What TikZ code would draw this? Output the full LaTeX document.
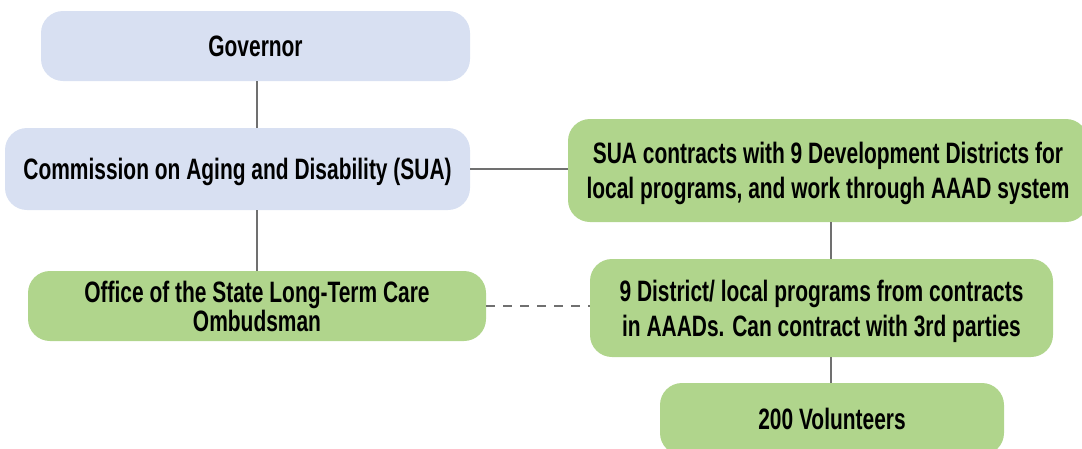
\documentclass[tikz,border=0pt]{standalone}
\usepackage{fontspec}
\setmainfont{Liberation Sans}[FakeStretch=0.71]
\usepackage{tikz}
\usetikzlibrary{positioning,calc}
\definecolor{govblue}{HTML}{D8E0F2}
\definecolor{leafgreen}{HTML}{B0D58C}
\definecolor{linkgray}{HTML}{707070}
\tikzset{
  govbox/.style={rounded corners=22pt, align=center, inner sep=0pt, text depth=-3pt, fill=govblue,
    font=\bfseries\fontsize{29.5}{35}\selectfont},
  localbox/.style={rounded corners=22pt, align=center, inner sep=0pt, text depth=-3pt, fill=leafgreen,
    font=\bfseries\fontsize{29.5}{35}\selectfont},
  link/.style={draw=linkgray, line width=2.4pt},
  dashedlink/.style={draw=linkgray, line width=2.4pt, dash pattern=on 9pt off 8pt}
}
\begin{document}
\begin{tikzpicture}[x=1pt, y=-1pt]
  \useasboundingbox (0,0) rectangle (1082,448);
  \clip (0,0) rectangle (1082,448);
  \node[govbox, minimum width=429pt, minimum height=70pt] (gov) at (255.5,46) {Governor};
  \node[govbox, minimum width=465pt, minimum height=82pt] (sua) at (237.5,169) {Commission on Aging and Disability (SUA)};
  \node[localbox, minimum width=458pt, minimum height=70pt,
    font=\bfseries\fontsize{29.5}{29}\selectfont] (ombud) at (257,306) {Office of the State Long-Term Care\\Ombudsman};
  \node[localbox, minimum width=520pt, minimum height=103pt] (contract) at (828,170.5) {SUA contracts with 9 Development Districts for\\local programs, and work through AAAD system};
  \node[localbox, minimum width=463pt, minimum height=98pt] (district) at (821.5,308) {9 District/ local programs from contracts\\in AAADs. Can contract with 3rd parties};
  \node[localbox, minimum width=344pt, minimum height=72pt] (vol) at (832,419) {200 Volunteers};
  \coordinate (trunk) at (831,0);
  % links
  \draw[link] (ombud.north |- gov.south) -- (ombud.north |- sua.north);
  \draw[link] (ombud.north) -- (ombud.north |- sua.south);
  \draw[link] (sua.east) -- (contract.west |- sua.east);
  \draw[link] (trunk |- contract.south) -- (trunk |- district.north);
  \draw[link] (trunk |- district.south) -- (trunk |- vol.north);
  \draw[dashedlink] (ombud.east) -- (district.west |- ombud.east);
\end{tikzpicture}
\end{document}
